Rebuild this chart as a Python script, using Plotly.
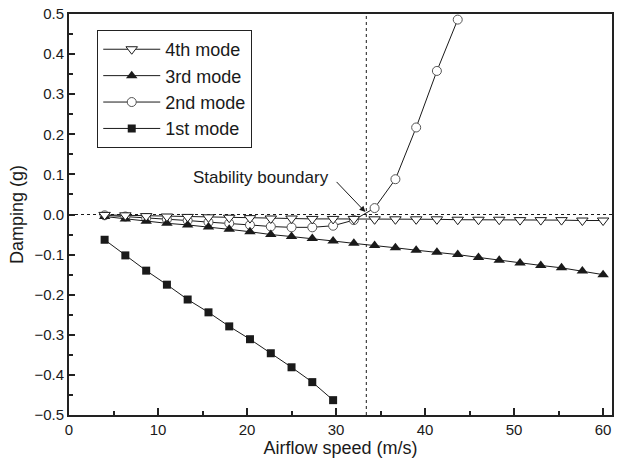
import plotly.graph_objects as go

# ---- data ----
speed_1st = [4.0, 6.33, 8.67, 11.0, 13.33, 15.67, 18.0, 20.33, 22.67, 25.0, 27.33, 29.67]
damp_1st = [-0.063, -0.102, -0.140, -0.175, -0.212, -0.244, -0.279, -0.311, -0.346, -0.381, -0.418, -0.463]

speed_2nd = [4.0, 6.33, 8.67, 11.0, 13.33, 15.67, 18.0, 20.33, 22.67, 25.0, 27.33, 29.67,
             32.0, 34.33, 36.67, 39.0, 41.33, 43.67]
damp_2nd = [-0.002, -0.005, -0.009, -0.012, -0.015, -0.019, -0.022, -0.026, -0.030, -0.032,
            -0.032, -0.028, -0.014, 0.016, 0.088, 0.217, 0.358, 0.486]

speed_34 = [4.0, 6.33, 8.67, 11.0, 13.33, 15.67, 18.0, 20.33, 22.67, 25.0, 27.33, 29.67,
            32.0, 34.33, 36.67, 39.0, 41.33, 43.67, 46.0, 48.33, 50.67, 53.0, 55.33, 57.67, 60.0]
damp_3rd = [-0.005, -0.011, -0.017, -0.022, -0.026, -0.031, -0.037, -0.043, -0.050, -0.055,
            -0.060, -0.066, -0.072, -0.077, -0.083, -0.089, -0.094, -0.100, -0.107, -0.114,
            -0.121, -0.127, -0.133, -0.141, -0.150]
damp_4th = [-0.001, -0.002, -0.004, -0.005, -0.006, -0.007, -0.008, -0.009, -0.010, -0.010,
            -0.011, -0.011, -0.011, -0.012, -0.012, -0.012, -0.012, -0.013, -0.013, -0.013,
            -0.014, -0.014, -0.014, -0.015, -0.015]

boundary_speed = 33.4
arrow_tip = (33.3, 0.006)
arrow_tail = (29.9, 0.085)
label_pos = (21.6, 0.092)

x_ticks = [0, 10, 20, 30, 40, 50, 60]
y_ticks = [0.5, 0.4, 0.3, 0.2, 0.1, 0.0, -0.1, -0.2, -0.3, -0.4, -0.5]

FONT = "Liberation Sans, Arial, Helvetica, sans-serif"
INK = "#1a1a1a"
LINE = dict(color=INK, width=1)

fig = go.Figure()
fig.add_trace(go.Scatter(x=speed_1st, y=damp_1st, name="1st mode", mode="lines+markers",
                         line=LINE, marker=dict(symbol="square", size=8, color=INK)))
fig.add_trace(go.Scatter(x=speed_2nd, y=damp_2nd, name="2nd mode", mode="lines+markers",
                         line=LINE, marker=dict(symbol="circle", size=9, color="white",
                                                line=dict(color="#555555", width=1))))
fig.add_trace(go.Scatter(x=speed_34, y=damp_3rd, name="3rd mode", mode="lines+markers",
                         line=LINE, marker=dict(symbol="triangle-up", size=10, color=INK)))
fig.add_trace(go.Scatter(x=speed_34, y=damp_4th, name="4th mode", mode="lines+markers",
                         line=LINE, marker=dict(symbol="triangle-down", size=10, color="white",
                                                line=dict(color=INK, width=1))))

fig.add_shape(type="line", xref="x", yref="paper", x0=boundary_speed, x1=boundary_speed,
              y0=0, y1=1, line=dict(color=INK, width=1, dash="dot"), layer="below")
fig.add_shape(type="line", xref="paper", yref="y", x0=0, x1=1, y0=0, y1=0,
              line=dict(color=INK, width=1, dash="dot"), layer="below")

fig.add_annotation(x=label_pos[0], y=label_pos[1], xref="x", yref="y", text="Stability boundary",
                   showarrow=False, font=dict(family=FONT, size=17, color=INK))
fig.add_annotation(x=arrow_tip[0], y=arrow_tip[1], ax=arrow_tail[0], ay=arrow_tail[1],
                   xref="x", yref="y", axref="x", ayref="y", text="", showarrow=True,
                   arrowhead=2, arrowsize=1.2, arrowwidth=1, arrowcolor=INK, standoff=0)

axis_common = dict(showline=True, linecolor="#222222", linewidth=2, mirror=True,
                   showgrid=False, zeroline=False, ticks="inside", tickcolor="#222222",
                   tickwidth=1.5, tickfont=dict(family=FONT, size=15, color=INK))

fig.update_xaxes(range=[0, 61], tickvals=x_ticks, ticklen=7,
                 minor=dict(dtick=5, ticks="inside", ticklen=4, tickcolor="#222222", tickwidth=1.5),
                 title=dict(text="Airflow speed (m/s)", font=dict(family=FONT, size=18, color=INK),
                            standoff=4),
                 **axis_common)
fig.update_yaxes(range=[-0.5, 0.5], tickvals=y_ticks, tickformat=".1f", ticklen=6,
                 minor=dict(dtick=0.05, ticks="inside", ticklen=4, tickcolor="#222222", tickwidth=1.5),
                 title=dict(text="Damping (g)", font=dict(family=FONT, size=18, color=INK),
                            standoff=6),
                 **axis_common)

fig.update_layout(
    width=619, height=463,
    margin=dict(l=69, r=5, t=13, b=48),
    paper_bgcolor="white", plot_bgcolor="white",
    font=dict(family=FONT, color=INK),
    showlegend=True,
    legend=dict(x=0.052, y=0.96, xanchor="left", yanchor="top", traceorder="reversed",
                bgcolor="white", bordercolor="#222222", borderwidth=1,
                font=dict(family=FONT, size=18, color=INK), itemwidth=57,
                tracegroupgap=0),
)

fig.write_html("out.html")
